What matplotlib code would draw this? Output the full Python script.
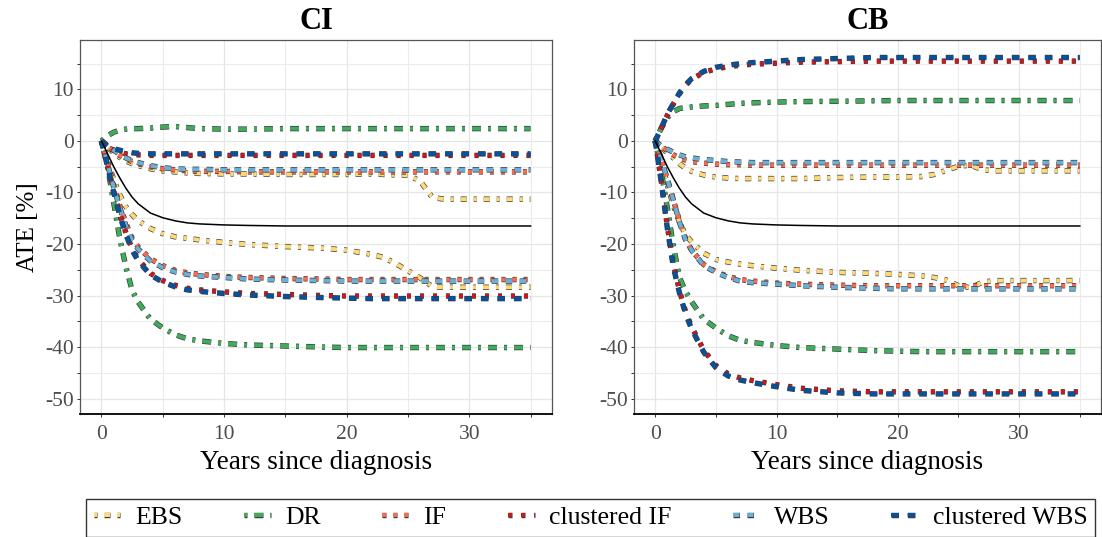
import matplotlib
matplotlib.use("Agg")
import matplotlib.pyplot as plt
import matplotlib.patheffects as pe
from matplotlib.lines import Line2D
from matplotlib.ticker import MultipleLocator

plt.rcParams['font.family'] = ['Liberation Serif', 'DejaVu Serif']
plt.rcParams['lines.scale_dashes'] = False

# ---------------- data ----------------
years = [0, 0.5, 1, 1.5, 2, 2.5, 3, 4, 5, 6, 7, 8, 10, 12, 15, 18, 20, 22, 23, 24, 25, 26, 27, 28, 30, 35]

reference = [0, -2.5, -5.0, -7.2, -9.2, -10.9, -12.2, -14.0, -14.9, -15.5, -15.9, -16.1, -16.3, -16.4, -16.5,
             -16.5, -16.5, -16.5, -16.5, -16.5, -16.5, -16.5, -16.5, -16.5, -16.5, -16.5]

methods = ["EBS", "DR", "IF", "clustered IF", "WBS", "clustered WBS"]

# CI panel (upper / lower curves)
ci_ebs_up = [0, -1.2, -2.3, -3.2, -3.9, -4.4, -4.8, -5.4, -5.8, -6.0, -6.2, -6.3, -6.4, -6.4, -6.5,
             -6.5, -6.5, -6.4, -6.5, -6.6, -6.6, -7.8, -11.0, -11.3, -11.3, -11.3]
ci_ebs_lo = [0, -4.0, -7.5, -10.5, -12.8, -14.3, -15.5, -17.0, -18.0, -18.6, -18.9, -19.2, -19.7, -20.1, -20.5,
             -20.8, -21.2, -22.0, -22.6, -23.8, -25.2, -26.6, -28.3, -28.4, -28.4, -28.4]
ci_dr_up = [0, 1.0, 1.7, 2.1, 2.3, 2.4, 2.4, 2.5, 2.7, 2.8, 2.6, 2.4, 2.3, 2.3, 2.4,
            2.4, 2.4, 2.4, 2.4, 2.4, 2.4, 2.4, 2.4, 2.4, 2.4, 2.4]
ci_dr_lo = [0, -5.0, -12.0, -19.0, -24.5, -29.0, -31.3, -34.6, -36.3, -37.6, -38.4, -38.8, -39.3, -39.6, -39.8,
            -40.0, -40.1, -40.1, -40.1, -40.1, -40.1, -40.1, -40.1, -40.1, -40.1, -40.1]
ci_if_up = [0, -1.0, -2.0, -2.8, -3.5, -4.0, -4.4, -5.0, -5.4, -5.6, -5.8, -5.9, -5.9, -6.0, -6.0,
            -6.0, -6.0, -6.0, -6.0, -6.0, -6.0, -6.0, -6.0, -6.0, -6.0, -6.0]
ci_if_lo = [0, -4.2, -8.6, -12.6, -16.0, -18.9, -20.6, -22.9, -24.2, -25.1, -25.6, -25.9, -26.3, -26.5, -26.7,
            -26.8, -26.9, -26.9, -26.9, -26.9, -26.9, -26.9, -26.9, -26.9, -26.9, -26.9]
ci_cif_up = [0, -1.2, -1.8, -2.2, -2.5, -2.6, -2.7, -2.8, -2.8, -2.8, -2.8, -2.8, -2.8, -2.8, -2.8,
             -2.8, -2.8, -2.8, -2.8, -2.8, -2.8, -2.8, -2.8, -2.8, -2.8, -2.8]
ci_cif_lo = [0, -4.8, -9.7, -14.2, -17.9, -20.9, -23.0, -25.7, -27.1, -28.0, -28.6, -28.9, -29.3, -29.6, -29.8,
             -30.0, -30.1, -30.1, -30.1, -30.1, -30.1, -30.1, -30.1, -30.1, -30.1, -30.1]
ci_wbs_up = [0, -0.9, -1.8, -2.6, -3.3, -3.8, -4.2, -4.8, -5.2, -5.4, -5.5, -5.5, -5.6, -5.6, -5.6,
             -5.6, -5.6, -5.6, -5.6, -5.6, -5.6, -5.6, -5.6, -5.6, -5.6, -5.6]
ci_wbs_lo = [0, -4.5, -9.0, -13.0, -16.5, -19.3, -21.0, -23.3, -24.6, -25.4, -25.9, -26.2, -26.5, -26.8, -27.0,
             -27.1, -27.2, -27.2, -27.2, -27.2, -27.2, -27.2, -27.2, -27.2, -27.2, -27.2]
ci_cwbs_up = [0, -1.0, -1.5, -1.8, -2.1, -2.3, -2.4, -2.5, -2.5, -2.5, -2.5, -2.5, -2.5, -2.5, -2.5,
              -2.5, -2.5, -2.5, -2.5, -2.5, -2.5, -2.5, -2.5, -2.5, -2.5, -2.5]
ci_cwbs_lo = [0, -5.0, -10.0, -14.5, -18.2, -21.2, -23.3, -26.0, -27.4, -28.3, -28.9, -29.2, -29.6, -29.9, -30.2,
              -30.4, -30.5, -30.6, -30.6, -30.6, -30.6, -30.6, -30.6, -30.6, -30.6, -30.6]

# CB panel
cb_ebs_up = [0, -1.2, -2.3, -3.3, -4.4, -5.3, -5.9, -6.6, -7.0, -7.2, -7.3, -7.3, -7.3, -7.3, -7.1,
             -7.0, -7.0, -6.9, -6.5, -5.7, -4.9, -4.7, -5.6, -5.8, -5.8, -5.8]
cb_ebs_lo = [0, -4.0, -8.5, -12.5, -15.8, -18.2, -19.6, -21.8, -23.0, -23.5, -23.9, -24.2, -24.7, -25.1, -25.5,
             -25.7, -25.9, -26.2, -26.5, -27.0, -28.1, -28.5, -27.4, -27.1, -27.1, -27.1]
cb_dr_up = [0, 2.5, 4.5, 5.7, 6.3, 6.5, 6.6, 6.8, 6.9, 7.1, 7.3, 7.4, 7.55, 7.65, 7.7,
            7.8, 7.85, 7.85, 7.85, 7.85, 7.85, 7.85, 7.85, 7.85, 7.85, 7.85]
cb_dr_lo = [0, -6.0, -13.0, -20.5, -26.5, -29.2, -31.2, -34.6, -36.3, -37.8, -38.7, -39.1, -39.7, -40.1, -40.4,
            -40.7, -40.8, -40.9, -40.9, -40.9, -40.9, -40.9, -40.9, -40.9, -40.9, -40.9]
cb_if_up = [0, -1.0, -1.9, -2.7, -3.3, -3.7, -4.0, -4.3, -4.5, -4.6, -4.6, -4.7, -4.7, -4.7, -4.7,
            -4.7, -4.7, -4.7, -4.7, -4.7, -4.7, -4.7, -4.7, -4.7, -4.7, -4.7]
cb_if_lo = [0, -3.5, -7.5, -11.5, -15.5, -19.0, -21.2, -24.0, -25.4, -26.3, -26.9, -27.2, -27.6, -27.8, -28.0,
            -28.1, -28.1, -28.1, -28.1, -28.1, -28.1, -28.1, -28.1, -28.1, -28.1, -28.1]
cb_cif_up = [0, 2.5, 5.0, 7.2, 9.2, 10.8, 12.0, 13.3, 14.0, 14.4, 14.7, 14.9, 15.1, 15.3, 15.4,
             15.5, 15.5, 15.5, 15.5, 15.5, 15.5, 15.5, 15.5, 15.5, 15.5, 15.5]
cb_cif_lo = [0, -7.8, -16.6, -24.0, -29.1, -33.1, -36.1, -40.6, -43.6, -45.2, -46.0, -46.5, -47.3, -48.0, -48.5,
             -48.7, -48.7, -48.7, -48.7, -48.7, -48.7, -48.7, -48.7, -48.7, -48.7, -48.7]
cb_wbs_up = [0, -1.0, -1.6, -2.2, -2.7, -3.1, -3.3, -3.6, -3.8, -4.0, -4.1, -4.2, -4.2, -4.2, -4.2,
             -4.2, -4.2, -4.2, -4.2, -4.2, -4.2, -4.2, -4.2, -4.2, -4.2, -4.2]
cb_wbs_lo = [0, -3.5, -7.5, -11.5, -15.8, -19.2, -21.2, -24.2, -25.5, -26.5, -27.2, -27.5, -27.8, -28.1, -28.4,
             -28.6, -28.7, -28.7, -28.7, -28.7, -28.7, -28.7, -28.7, -28.7, -28.7, -28.7]
cb_cwbs_up = [0, 2.5, 5.2, 7.3, 9.3, 10.9, 12.1, 13.5, 14.3, 14.7, 15.0, 15.2, 15.5, 15.8, 16.0,
              16.2, 16.2, 16.2, 16.2, 16.2, 16.2, 16.2, 16.2, 16.2, 16.2, 16.2]
cb_cwbs_lo = [0, -8.0, -17.0, -24.5, -29.5, -33.5, -36.5, -41.0, -44.0, -45.6, -46.4, -46.9, -47.7, -48.4, -48.9,
              -49.1, -49.1, -49.1, -49.1, -49.1, -49.1, -49.1, -49.1, -49.1, -49.1, -49.1]

panels = {
    "CI": {"EBS": (ci_ebs_up, ci_ebs_lo), "DR": (ci_dr_up, ci_dr_lo), "IF": (ci_if_up, ci_if_lo),
           "clustered IF": (ci_cif_up, ci_cif_lo), "WBS": (ci_wbs_up, ci_wbs_lo),
           "clustered WBS": (ci_cwbs_up, ci_cwbs_lo)},
    "CB": {"EBS": (cb_ebs_up, cb_ebs_lo), "DR": (cb_dr_up, cb_dr_lo), "IF": (cb_if_up, cb_if_lo),
           "clustered IF": (cb_cif_up, cb_cif_lo), "WBS": (cb_wbs_up, cb_wbs_lo),
           "clustered WBS": (cb_cwbs_up, cb_cwbs_lo)},
}
ytick_values = [-50, -40, -30, -20, -10, 0, 10]
ytick_labels = ["-50", "-40", "-30", "-20", "-10", "0", "10"]

# ---------------- styles ----------------
colors = {"EBS": "#FED976", "DR": "#41AB5D", "IF": "#FB6A4A", "clustered IF": "#CB181D",
          "WBS": "#6BAED6", "clustered WBS": "#08519C"}
px = 0.72  # points per pixel at 100 dpi
dashes = {"EBS": (0, [3 * px, 7 * px, 6 * px, 7 * px]), "DR": (0, [3 * px, 7 * px, 9 * px, 7 * px]),
          "IF": (0, [4 * px, 7 * px]), "clustered IF": (0, [4 * px, 9 * px]),
          "WBS": (0, [6.5 * px, 7.5 * px]), "clustered WBS": (0, [7.5 * px, 9 * px])}
LW = 2.9
outline = [pe.Stroke(linewidth=LW + 1.0, foreground="#3a3a3a"), pe.Normal()]

W, H = 1102, 537
fig = plt.figure(figsize=(W / 100, H / 100), dpi=100)

def ax_rect(x0, y0, x1, y1):
    return [x0 / W, 1 - y1 / H, (x1 - x0) / W, (y1 - y0) / H]

axes = [fig.add_axes(ax_rect(80, 40, 552, 414)), fig.add_axes(ax_rect(634, 40, 1101, 414))]

for ax, name in zip(axes, ["CI", "CB"]):
    ax.set_xlim(-1.75, 36.75)
    ax.xaxis.set_major_locator(MultipleLocator(10))
    ax.xaxis.set_minor_locator(MultipleLocator(5))
    ax.set_yticks(ytick_values)
    ax.set_yticklabels(ytick_labels)
    ax.yaxis.set_minor_locator(MultipleLocator(5))
    ax.set_ylim(-53.0, 19.6)
    ax.grid(True, which="major", color="#E6E6E6", lw=0.9, zorder=0)
    ax.grid(True, which="minor", color="#ECECEC", lw=0.8, zorder=0)
    ax.set_axisbelow(True)
    for sp in ["top", "right", "left"]:
        ax.spines[sp].set_color("#555555")
        ax.spines[sp].set_linewidth(0.9)
    ax.spines["bottom"].set_color("black")
    ax.spines["bottom"].set_linewidth(1.3)
    ax.tick_params(which="both", direction="out", length=2.5, width=0.7, color="#333333",
                   labelsize=15.5, labelcolor="#4D4D4D", pad=2)
    ax.tick_params(axis="x", which="both", pad=5.5)

    for m in methods:
        up, lo = panels[name][m]
        for series in (up, lo):
            ln, = ax.plot(years, series, color=colors[m], lw=LW, solid_capstyle="butt",
                          dash_capstyle="butt", zorder=3, linestyle=dashes[m])
            ln.set_path_effects(outline)
    ax.plot(years, reference, color="black", lw=1.1, zorder=5)

    ax.set_title(name, fontsize=22, fontweight="bold", pad=8)
    ax.set_xlabel("Years since diagnosis", fontsize=19.5, labelpad=4)

axes[0].set_ylabel("ATE [%]", fontsize=18, labelpad=4)

handles = []
for m in methods:
    h = Line2D([], [], color=colors[m], lw=LW, dash_capstyle="butt", linestyle=dashes[m])
    h.set_path_effects(outline)
    handles.append(h)

leg = fig.legend(handles, methods, loc="lower left", bbox_to_anchor=(86 / W, 0.0),
                 ncol=6, fontsize=18.5, frameon=True, fancybox=False, edgecolor="black",
                 handlelength=1.05, handletextpad=0.55, borderpad=0.3, columnspacing=2.4,
                 borderaxespad=0.0)
leg.get_frame().set_linewidth(1.0)

fig.savefig("out.png", dpi=100)
